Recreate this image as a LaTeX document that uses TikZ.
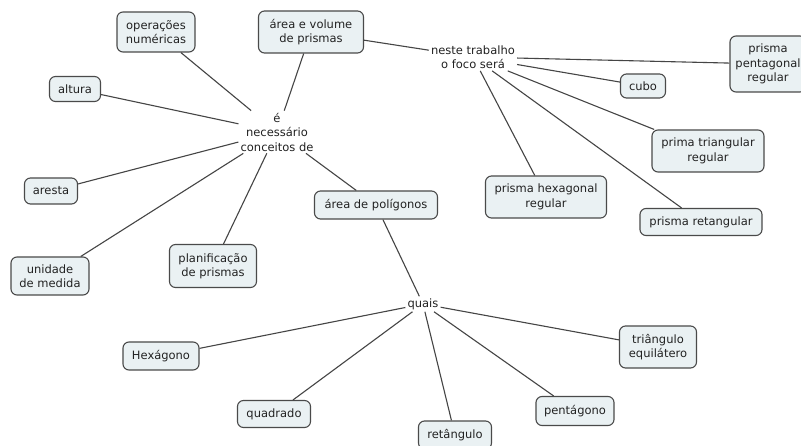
\documentclass[tikz,border=0pt]{standalone}
\usepackage{fontspec}
\setmainfont{DejaVu Sans}
\definecolor{boxfill}{HTML}{EAF1F3}
\definecolor{boxline}{HTML}{4A4A4A}
\definecolor{conn}{HTML}{454545}
\definecolor{txt}{HTML}{222222}
\begin{document}
\begin{tikzpicture}[x=1pt,y=-1pt,
  every node/.style={font=\fontsize{11.5}{14.5}\selectfont, text=txt},
  cbox/.style={draw=boxline, fill=boxfill, rounded corners=6pt, line width=1.1pt, align=center, inner sep=0pt},
  linkph/.style={align=center, inner sep=2pt},
  conline/.style={draw=conn, line width=1.1pt}]
\useasboundingbox (0,0) rectangle (801,446);
\clip (0,0) rectangle (801,446);
\fill[white] (0,0) rectangle (801,446);
% concepts
\node[cbox, minimum width=78pt, minimum height=40pt] (ops) at (156,32) {operações\\numéricas};
\node[cbox, minimum width=105pt, minimum height=42pt] (avp) at (311,32) {área e volume\\de prismas};
\node[cbox, minimum width=51pt, minimum height=25pt] (alt) at (75,89) {altura};
\node[cbox, minimum width=53pt, minimum height=26pt] (are) at (51,191) {aresta};
\node[cbox, minimum width=78pt, minimum height=38pt] (uni) at (50,276) {unidade\\de medida};
\node[cbox, minimum width=87pt, minimum height=43pt] (pla) at (213,266) {planificação\\de prismas};
\node[cbox, minimum width=123pt, minimum height=28pt] (apo) at (376,205) {área de polígonos};
\node[cbox, minimum width=76pt, minimum height=56pt] (ppe) at (768,64) {prisma\\pentagonal\\regular};
\node[cbox, minimum width=45pt, minimum height=24pt] (cub) at (643,86) {cubo};
\node[cbox, minimum width=112pt, minimum height=42pt] (ptr) at (708,151) {prima triangular\\regular};
\node[cbox, minimum width=121pt, minimum height=42pt] (phx) at (546,197) {prisma hexagonal\\regular};
\node[cbox, minimum width=122pt, minimum height=27pt] (pre) at (701,222) {prisma retangular};
\node[cbox, minimum width=76pt, minimum height=28pt] (hex) at (161,356) {Hexágono};
\node[cbox, minimum width=73pt, minimum height=27pt] (qua) at (274,414) {quadrado};
\node[cbox, minimum width=73pt, minimum height=28pt] (ret) at (455,435) {retângulo};
\node[cbox, minimum width=78pt, minimum height=29pt] (pen) at (575,411) {pentágono};
\node[cbox, minimum width=77pt, minimum height=42pt] (tri) at (658,347) {triângulo\\equilátero};
% linking phrases
\node[linkph] (nec) at (277,132) {é\\necessário\\conceitos de};
\node[linkph] (foc) at (473,57) {neste trabalho\\o foco será};
\node[linkph] (qus) at (423,304) {quais};
% connectors
\draw[conline] (ops) -- (nec);
\draw[conline] (alt) -- (nec);
\draw[conline] (are) -- (nec);
\draw[conline] (uni) -- (nec);
\draw[conline] (pla) -- (nec);
\draw[conline] (nec) -- (apo);
\draw[conline] (avp) -- (nec);
\draw[conline] (avp) -- (foc);
\draw[conline] (foc) -- (ppe);
\draw[conline] (foc) -- (cub);
\draw[conline] (foc) -- (ptr);
\draw[conline] (foc) -- (phx);
\draw[conline] (foc) -- (pre);
\draw[conline] (apo) -- (qus);
\draw[conline] (qus) -- (hex);
\draw[conline] (qus) -- (qua);
\draw[conline] (qus) -- (ret);
\draw[conline] (qus) -- (pen);
\draw[conline] (qus) -- (tri);
\end{tikzpicture}
\end{document}
